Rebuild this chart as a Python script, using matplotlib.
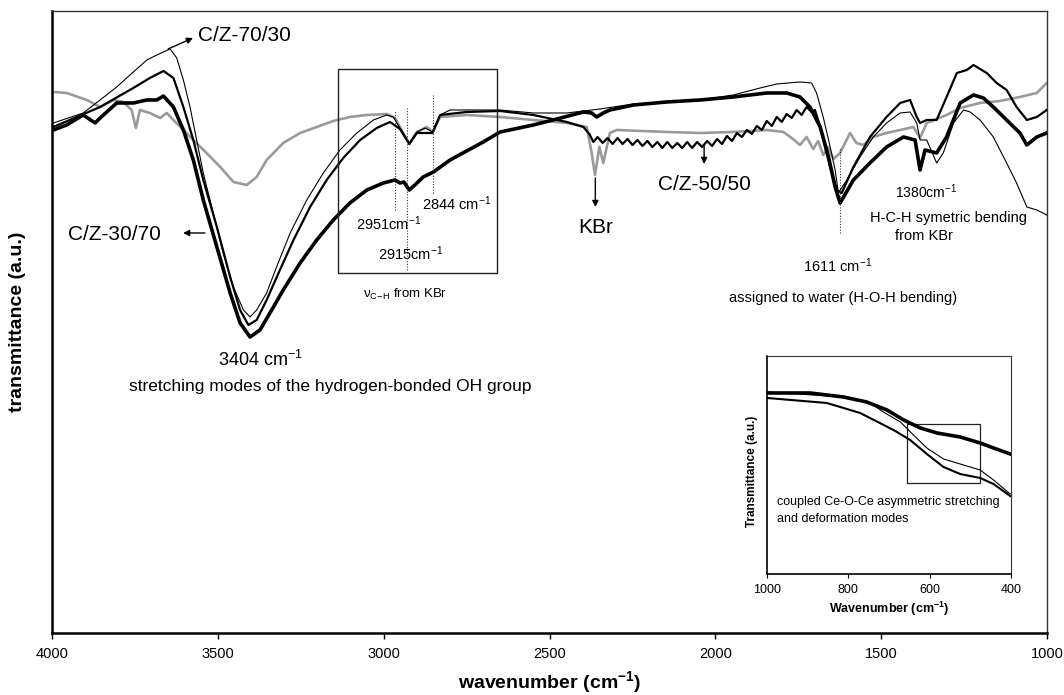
import matplotlib
matplotlib.use("Agg")
import matplotlib.pyplot as plt
from matplotlib.patches import Rectangle

plt.rcParams['font.family'] = ['Liberation Sans', 'DejaVu Sans']
plt.rcParams['mathtext.fontset'] = 'custom'
plt.rcParams['mathtext.rm'] = 'Liberation Sans'
plt.rcParams['mathtext.it'] = 'Liberation Sans:italic'
plt.rcParams['mathtext.bf'] = 'Liberation Sans:bold'

# ---------------- main spectra (wavenumber cm-1, transmittance a.u.) ----------------
wn_7030 = [3996, 3906, 3855, 3805, 3755, 3714, 3684, 3664, 3644, 3624, 3604, 3584, 3564, 3544, 3514,
           3484, 3453, 3423, 3403, 3383, 3353, 3323, 3282, 3232, 3182, 3132, 3081, 3031, 2991, 2971,
           2951, 2923, 2900, 2875, 2853, 2830, 2800, 2750, 2649, 2549, 2448, 2348, 2247, 2147, 2046,
           1946, 1865, 1815, 1745, 1710, 1695, 1675, 1654, 1639, 1629, 1604, 1564, 1524, 1484, 1443,
           1413, 1393, 1383, 1363, 1333, 1313, 1282, 1252, 1232, 1202, 1162, 1122, 1092, 1061, 1031, 1001]
t_7030 = [510, 520, 533, 546, 561, 573, 578, 581, 584, 575, 553, 526, 493, 460, 420,
          380, 346, 323, 316, 323, 340, 366, 400, 433, 460, 483, 500, 513, 518, 516,
          505, 490, 501, 505, 501, 518, 523, 523, 523, 520, 520, 524, 529, 531, 533,
          538, 545, 549, 551, 550, 540, 516, 486, 463, 440, 453, 476, 496, 510, 520,
          521, 510, 493, 493, 470, 480, 510, 523, 521, 513, 496, 470, 450, 426, 423, 418]

wn_5050 = [3996, 3855, 3755, 3705, 3664, 3634, 3604, 3574, 3544, 3503, 3463, 3433, 3408, 3383, 3353,
           3313, 3272, 3222, 3172, 3122, 3071, 3021, 2981, 2951, 2923, 2900, 2853, 2830, 2750, 2649,
           2549, 2448, 2398,
           2380, 2368, 2355, 2340, 2325, 2310, 2295, 2280, 2265, 2250, 2235, 2220, 2205, 2190, 2175,
           2160, 2145, 2130, 2115, 2100, 2085, 2070, 2055, 2040, 2025, 2010, 1995, 1980, 1965, 1950,
           1935, 1920, 1905, 1890, 1875, 1860, 1845, 1830, 1815, 1800, 1785, 1770, 1755, 1740, 1725, 1710,
           1700, 1684, 1654, 1634, 1619, 1584, 1534, 1484, 1443, 1413, 1393, 1383, 1363, 1333, 1303,
           1272, 1242, 1222, 1182, 1152, 1122, 1092, 1061, 1031, 1001]
t_5050 = [506, 526, 545, 555, 562, 555, 526, 493, 453, 406, 356, 323, 308, 313, 333,
          363, 393, 426, 453, 475, 493, 505, 511, 504, 489, 500, 500, 518, 521, 522,
          518, 511, 506,
          499, 491, 496, 490, 495, 489, 495, 489, 494, 488, 493, 487, 492, 486, 491,
          485, 491, 485, 490, 485, 491, 485, 491, 486, 492, 487, 494, 489, 497, 492,
          500, 496, 503, 499, 507, 503, 512, 507, 516, 511, 519, 515, 523, 518, 526, 521,
          523, 506, 466, 443, 440, 466, 496, 516, 530, 533, 516, 510, 513, 513, 536,
          560, 563, 568, 560, 550, 543, 526, 513, 516, 523]

wn_3070 = [3996, 3956, 3906, 3870, 3855, 3835, 3805, 3755, 3714, 3684, 3664, 3634, 3604, 3574, 3544,
           3503, 3463, 3433, 3403, 3373, 3343, 3303, 3252, 3202, 3152, 3102, 3051, 3001, 2966, 2951,
           2939, 2923, 2906, 2881, 2850, 2800, 2750, 2700, 2649, 2549, 2478, 2398, 2373, 2358, 2338,
           2318, 2247, 2147, 2046, 1946, 1845, 1785, 1745, 1715, 1684, 1659, 1639, 1624, 1584, 1534,
           1484, 1433, 1398, 1383, 1368, 1333, 1303, 1262, 1222, 1192, 1162, 1122, 1082, 1061, 1031, 1001]
t_3070 = [503, 508, 518, 510, 515, 521, 530, 530, 533, 533, 537, 526, 503, 473, 433,
          386, 340, 310, 296, 303, 320, 343, 370, 393, 413, 430, 443, 450, 453, 450,
          451, 443, 448, 456, 461, 473, 482, 491, 501, 508, 514, 521, 520, 516, 520,
          523, 528, 531, 533, 536, 540, 540, 536, 526, 506, 476, 446, 430, 453, 470,
          486, 496, 493, 463, 483, 480, 496, 530, 538, 535, 526, 513, 500, 488, 496, 500]

wn_gray = [3996, 3956, 3895, 3855, 3815, 3785, 3760, 3747, 3735, 3705, 3674, 3654, 3634, 3604, 3574,
           3534, 3493, 3453, 3413, 3383, 3353, 3303, 3252, 3202, 3152, 3102, 3051, 2991, 2966, 2951,
           2923, 2900, 2870, 2852, 2830, 2750, 2649, 2549, 2448, 2388, 2373, 2363, 2350, 2338, 2318,
           2297, 2147, 2046, 1946, 1845, 1795, 1770, 1745, 1725, 1705, 1690, 1675, 1660, 1644, 1624,
           1594, 1575, 1554, 1524, 1484, 1443, 1403, 1383, 1363, 1303, 1262, 1202, 1142, 1082, 1031, 1001]
t_gray = [541, 540, 533, 526, 533, 531, 523, 505, 523, 520, 515, 520, 513, 503, 493,
          480, 466, 451, 448, 456, 473, 490, 500, 506, 512, 516, 518, 519, 515, 506,
          489, 501, 506, 501, 516, 518, 516, 513, 510, 506, 480, 458, 486, 470, 500,
          503, 501, 500, 501, 503, 501, 495, 488, 496, 484, 492, 478, 486, 474, 480,
          500, 490, 488, 496, 500, 503, 506, 495, 510, 518, 525, 530, 532, 536, 540, 550]

# ---------------- inset spectra (1000-400 cm-1) ----------------
wn_in_thick = [1000, 894, 812, 755, 705, 664, 623, 582, 525, 476, 443, 402]
t_in_thick = [181, 181, 177, 172, 164, 154, 146, 141, 137, 131, 126, 120]
wn_in_thin = [1000, 812, 746, 714, 672, 640, 607, 566, 525, 476, 443, 402]
t_in_thin = [182, 177, 171, 162, 152, 139, 126, 115, 110, 104, 94, 80]
wn_in_med = [1000, 853, 771, 689, 648, 607, 566, 525, 476, 443, 402]
t_in_med = [176, 171, 161, 144, 134, 120, 107, 100, 96, 90, 78]

main_ticks = [4000, 3500, 3000, 2500, 2000, 1500, 1000]
inset_ticks = [1000, 800, 600, 400]

# ---------------- figure ----------------
fig = plt.figure(figsize=(10.64, 6.95), dpi=100)
ax = fig.add_axes([0.0489, 0.0892, 0.9352, 0.895])

ax.plot(wn_gray, t_gray, color='#9a9a9a', lw=1.9, zorder=2)
ax.plot(wn_7030, t_7030, color='black', lw=0.8, zorder=3)
ax.plot(wn_5050, t_5050, color='black', lw=1.6, zorder=3)
ax.plot(wn_3070, t_3070, color='black', lw=2.6, zorder=3)

ax.set_xlim(4000, 1000)
ax.set_ylim(0, 622)
ax.set_xticks(main_ticks)
ax.set_xticklabels([str(t) for t in main_ticks])
ax.set_yticks([])
ax.tick_params(axis='x', direction='out', length=4, width=1, labelsize=10.5, pad=6)
for s in ['left', 'bottom']:
    ax.spines[s].set_linewidth(1.8)
    ax.spines[s].set_color('black')
for s in ['top', 'right']:
    ax.spines[s].set_linewidth(1.0)
    ax.spines[s].set_color('#333333')

ax.set_xlabel(r'wavenumber (cm$^{\mathbf{-1}}$)', fontsize=14, fontweight='bold', labelpad=6)
ax.set_ylabel('transmittance (a.u.)', fontsize=14, fontweight='bold')
ax.yaxis.set_label_coords(-0.026, 0.5)

# box around C-H region
ax.add_patch(Rectangle((2659, 360), 479, 204, fill=False, ec='#222222', lw=1.0, zorder=4))

# dotted markers
mark_wn = [2966, 2929, 2852, 1625]
mark_lo = [423, 363, 440, 400]
mark_hi = [523, 525, 538, 485]
ax.vlines(mark_wn, mark_lo, mark_hi, colors='#333333', linestyles=(0, (1, 1.5)), lw=0.8, zorder=4)

arrow = dict(arrowstyle='-|>', color='black', lw=1.0, mutation_scale=9, shrinkA=0, shrinkB=0)

ax.annotate('', xy=(3575, 595), xytext=(3650, 584), arrowprops=arrow, zorder=5)
ax.text(3560, 592, 'C/Z-70/30', fontsize=15, va='baseline', ha='left')

ax.annotate('', xy=(3605, 400), xytext=(3539, 400), arrowprops=arrow, zorder=5)
ax.text(3952, 393, 'C/Z-30/70', fontsize=15, va='baseline', ha='left')

ax.annotate('', xy=(2362, 426), xytext=(2362, 455), arrowprops=arrow, zorder=5)
ax.text(2362, 400, 'KBr', fontsize=15, va='baseline', ha='center')

ax.annotate('', xy=(2034, 469), xytext=(2034, 488), arrowprops=arrow, zorder=5)
ax.text(2034, 443, 'C/Z-50/50', fontsize=15, va='baseline', ha='center')

ax.text(2885, 423, r'2844 cm$^{-1}$', fontsize=10.5, va='baseline')
ax.text(3083, 403, r'2951cm$^{-1}$', fontsize=10.5, va='baseline')
ax.text(3017, 373, r'2915cm$^{-1}$', fontsize=10.5, va='baseline')
ax.text(3062, 335, r'$\mathrm{\nu}_{\mathrm{C\!-\!H}}$ from KBr', fontsize=9.5, va='baseline')

ax.text(3373, 267, r'3404 cm$^{-1}$', fontsize=13, va='baseline', ha='center')
ax.text(3162, 242, 'stretching modes of the hydrogen-bonded OH group', fontsize=12.5,
        va='baseline', ha='center')

ax.text(1736, 361, r'1611 cm$^{-1}$', fontsize=10.5, va='baseline')
ax.text(1959, 331, 'assigned to water (H-O-H bending)', fontsize=10.5, va='baseline')

ax.text(1458, 435, r'1380cm$^{-1}$', fontsize=10, va='baseline')
ax.text(1534, 411, 'H-C-H symetric bending', fontsize=10.5, va='baseline')
ax.text(1371, 393, 'from KBr', fontsize=10.5, va='baseline', ha='center')

# ---------------- inset ----------------
ins = fig.add_axes([0.7209, 0.1741, 0.2293, 0.3137])
ins.plot(wn_in_thin, t_in_thin, color='black', lw=0.8)
ins.plot(wn_in_med, t_in_med, color='black', lw=1.5)
ins.plot(wn_in_thick, t_in_thick, color='black', lw=2.6)
ins.set_xlim(1000, 400)
ins.set_ylim(0, 218)
ins.set_xticks(inset_ticks)
ins.set_xticklabels([str(t) for t in inset_ticks])
ins.set_yticks([])
ins.tick_params(axis='x', direction='out', length=3, width=0.8, labelsize=9, pad=4)
for s in ['left', 'bottom']:
    ins.spines[s].set_linewidth(1.2)
for s in ['top', 'right']:
    ins.spines[s].set_linewidth(0.8)
    ins.spines[s].set_color('#333333')
ins.add_patch(Rectangle((477, 91), 179, 59, fill=False, ec='#222222', lw=0.9))
ins.text(976, 69, 'coupled Ce-O-Ce asymmetric stretching', fontsize=9, va='baseline')
ins.text(976, 52, 'and deformation modes', fontsize=9, va='baseline')
ins.set_xlabel(r'Wavenumber (cm$^{\mathbf{-1}}$)', fontsize=9, fontweight='bold', labelpad=3)
ins.set_ylabel('Transmittance (a.u.)', fontsize=8.5, fontweight='bold')
ins.yaxis.set_label_coords(-0.035, 0.47)

fig.savefig('out.png', dpi=100)
